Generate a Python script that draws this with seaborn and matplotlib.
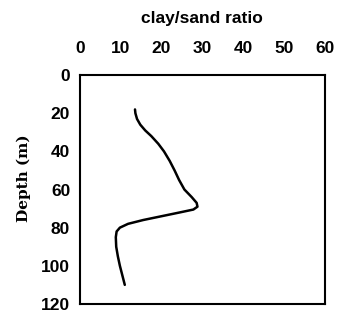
import matplotlib
matplotlib.use("Agg")
import matplotlib.pyplot as plt
import seaborn as sns
import pandas as pd

# values
depth = [18, 20, 23, 26, 29, 32, 36, 40, 45, 50, 55, 60, 64, 67, 69, 70.5, 72, 74, 76, 78, 80, 82, 85, 90, 95, 100, 105, 110]
ratio = [13.5, 13.6, 14.0, 14.8, 16.0, 17.5, 19.2, 20.6, 22.0, 23.2, 24.3, 25.6, 27.4, 28.6, 28.8, 27.8, 24.5, 20.0, 15.5, 11.8, 9.8, 9.0, 8.8, 8.9, 9.3, 9.8, 10.4, 11.0]
xticks = [0, 10, 20, 30, 40, 50, 60]
yticks = [0, 20, 40, 60, 80, 100, 120]

df = pd.DataFrame({"depth": depth, "ratio": ratio})

sns.set_theme(style="white")
plt.rcParams["font.family"] = ["Liberation Sans", "DejaVu Sans"]
plt.rcParams["text.color"] = "black"

fig = plt.figure(figsize=(3.37, 3.13), dpi=100)
ax = fig.add_axes([0.237, 0.029, 0.727, 0.731])

sns.lineplot(data=df, x="ratio", y="depth", sort=False, orient="y",
             color="black", linewidth=1.8, ax=ax)

ax.set_xlim(0, 60)
ax.set_ylim(120, 0)
ax.set_xticks(xticks)
ax.set_yticks(yticks)
ax.xaxis.tick_top()
ax.xaxis.set_label_position("top")
ax.tick_params(axis="x", length=0, pad=14, labelsize=12.5, labelcolor="black")
ax.tick_params(axis="y", length=0, pad=7, labelsize=12.5, labelcolor="black")
for lab in ax.get_xticklabels() + ax.get_yticklabels():
    lab.set_fontweight("bold")
ax.set_xlabel("clay/sand ratio", fontsize=12.5, fontweight="bold", labelpad=13, color="black")
ax.set_ylabel("Depth (m)", fontsize=11, fontweight="bold", family="DejaVu Serif", labelpad=9, color="black")
ax.yaxis.set_label_coords(-0.2, 0.55)
for s in ax.spines.values():
    s.set_linewidth(1.5)
    s.set_color("black")

fig.savefig("out.png", dpi=100)
